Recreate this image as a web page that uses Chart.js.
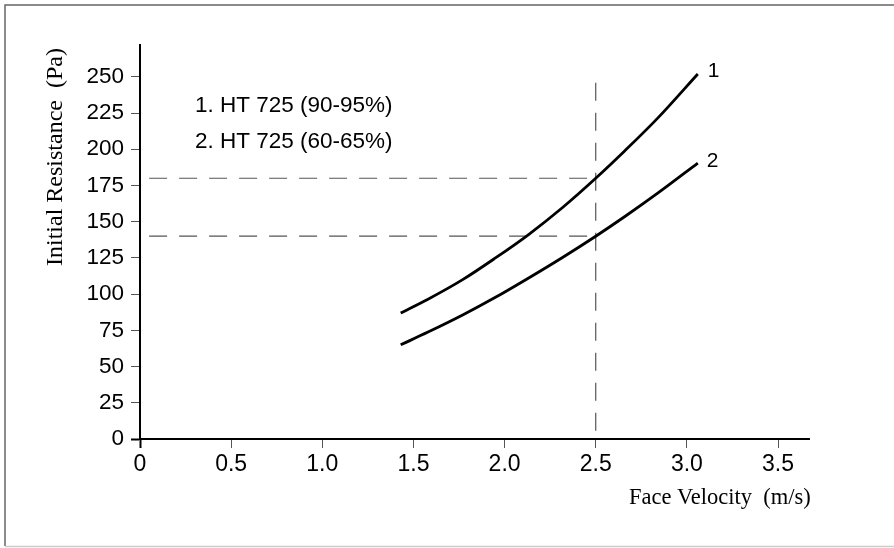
<!DOCTYPE html>
<html>
<head>
<meta charset="utf-8">
<script src="https://cdn.jsdelivr.net/npm/chart.js@4.4.1/dist/chart.umd.min.js"></script>
<style>
  html, body { margin: 0; padding: 0; background: #fff; }
  canvas { display: block; }
</style>
</head>
<body>
<canvas id="chart" width="894" height="548"></canvas>
<script>
// ===============================
// DATA
// ===============================
const velocity = [1.43, 1.58, 1.77, 1.95, 2.13, 2.32, 2.5, 2.66, 2.84, 3.06];
const resistance1 = [87, 96.5, 110, 125, 141, 160, 180, 199, 221.5, 252];       // 1. HT 725 (90-95%)
const resistance2 = [65, 73.8, 85.6, 97.8, 111, 125.5, 140, 153.6, 169.7, 190.5]; // 2. HT 725 (60-65%)

const legendLines = ["1. HT 725 (90-95%)", "2. HT 725 (60-65%)"];
const curveLabels = ["1", "2"];

// guide lines at 2.5 m/s
const guideVelocity = 2.5;
const guideResistance = [180, 140];
const guideStart = 0.05;
const guideTop = 246;

const xTitle = "Face Velocity  (m/s)";
const yTitle = "Initial Resistance  (Pa)";

// ===============================
// HELPERS
// ===============================
function toPoints(xs, ys) {
  return xs.map((x, i) => ({ x: x, y: ys[i] }));
}

const curveStyle = {
  borderColor: "#000",
  borderWidth: 2.8,
  pointRadius: 0,
  fill: false,
  cubicInterpolationMode: "monotone"
};

const dashStyle = {
  borderColor: "#555",
  borderWidth: 1.2,
  borderDash: [18, 12],
  pointRadius: 0,
  fill: false,
  tension: 0
};

// frame and free text
const annotate = {
  id: "annotate",
  beforeDraw(chart) {
    const ctx = chart.ctx;
    ctx.save();
    ctx.fillStyle = "#fff";
    ctx.fillRect(0, 0, chart.width, chart.height);
    ctx.lineWidth = 1.5;
    ctx.strokeStyle = "#666";
    ctx.beginPath();
    ctx.moveTo(894, 5);
    ctx.lineTo(5, 5);
    ctx.lineTo(5, 546);
    ctx.stroke();
    ctx.strokeStyle = "#ccc";
    ctx.beginPath();
    ctx.moveTo(5, 546.5);
    ctx.lineTo(894, 546.5);
    ctx.stroke();
    ctx.restore();
  },
  afterDraw(chart) {
    const ctx = chart.ctx;
    const xs = chart.scales.x;
    const ys = chart.scales.y;
    ctx.save();
    ctx.fillStyle = "#000";

    // legend text
    ctx.font = "22.5px 'Liberation Sans', Arial, sans-serif";
    ctx.textAlign = "left";
    ctx.textBaseline = "middle";
    ctx.fillText(legendLines[0], 195, 106);
    ctx.fillText(legendLines[1], 195, 142);

    // curve end labels
    ctx.font = "21px 'Liberation Sans', Arial, sans-serif";
    const last = velocity.length - 1;
    ctx.fillText(curveLabels[0], xs.getPixelForValue(velocity[last]) + 10, ys.getPixelForValue(resistance1[last]) - 3);
    ctx.fillText(curveLabels[1], xs.getPixelForValue(velocity[last]) + 9, ys.getPixelForValue(resistance2[last]) - 2);

    // axis titles
    ctx.font = "22.5px 'Liberation Serif', 'Times New Roman', serif";
    ctx.textAlign = "left";
    ctx.textBaseline = "alphabetic";
    ctx.fillText(xTitle, 629, 504);

    ctx.font = "24px 'Liberation Serif', 'Times New Roman', serif";
    ctx.translate(62, 157);
    ctx.rotate(-Math.PI / 2);
    ctx.textAlign = "center";
    ctx.fillText(yTitle, 0, 0);
    ctx.restore();
  }
};

// ===============================
// CHART
// ===============================
new Chart(document.getElementById("chart"), {
  type: "line",
  data: {
    datasets: [
      Object.assign({ data: toPoints(velocity, resistance1) }, curveStyle),
      Object.assign({ data: toPoints(velocity, resistance2) }, curveStyle),
      Object.assign({ data: [{ x: guideStart, y: guideResistance[0] }, { x: guideVelocity, y: guideResistance[0] }] }, dashStyle),
      Object.assign({ data: [{ x: guideStart, y: guideResistance[1] }, { x: guideVelocity, y: guideResistance[1] }] }, dashStyle),
      Object.assign({ data: [{ x: guideVelocity, y: guideTop }, { x: guideVelocity, y: 0 }] }, dashStyle)
    ]
  },
  options: {
    responsive: false,
    animation: false,
    devicePixelRatio: 1,
    layout: { padding: { left: 0, top: 45, right: 85, bottom: 0 } },
    plugins: {
      legend: { display: false },
      tooltip: { enabled: false }
    },
    scales: {
      x: {
        type: "linear",
        min: 0,
        max: 3.67,
        afterFit: (scale) => { scale.height = 109; },
        ticks: {
          stepSize: 0.5,
          includeBounds: false,
          padding: 3,
          color: "#000",
          font: { family: "'Liberation Sans', Arial, sans-serif", size: 23 },
          callback: (v) => (v === 0 ? "0" : v.toFixed(1))
        },
        grid: {
          drawOnChartArea: false,
          drawTicks: true,
          tickLength: 9,
          tickColor: (c) => (c.tick && c.tick.value === 0 ? "#000" : "#555"),
          tickWidth: (c) => (c.tick && c.tick.value === 0 ? 2 : 1)
        },
        border: { display: true, color: "#000", width: 2 }
      },
      y: {
        type: "linear",
        min: 0,
        max: 272,
        afterFit: (scale) => { scale.width = 140; },
        ticks: {
          stepSize: 25,
          includeBounds: false,
          padding: 7,
          color: "#000",
          font: { family: "'Liberation Sans', Arial, sans-serif", size: 22.5 }
        },
        grid: {
          drawOnChartArea: false,
          drawTicks: true,
          tickLength: 9,
          tickColor: (c) => (c.tick && c.tick.value === 0 ? "#000" : "#555"),
          tickWidth: (c) => (c.tick && c.tick.value === 0 ? 2 : 1)
        },
        border: { display: true, color: "#000", width: 2 }
      }
    }
  },
  plugins: [annotate]
});
</script>
</body>
</html>
